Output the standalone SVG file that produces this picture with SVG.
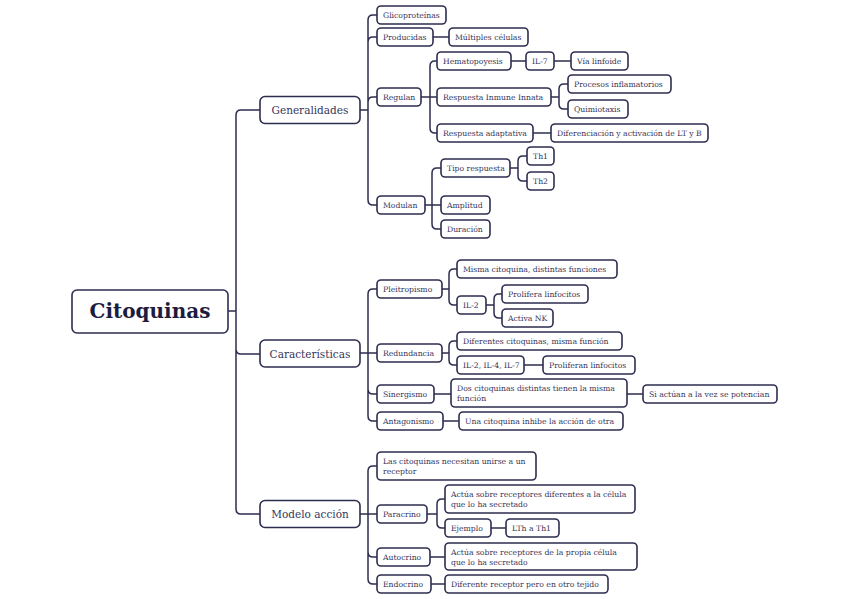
<svg xmlns="http://www.w3.org/2000/svg" width="848" height="599" viewBox="0 0 848 599">
<style>
.n rect{fill:#fff;stroke:#2d2d50;stroke-width:1.6}
.n text{font-family:"DejaVu Serif","Liberation Serif",serif;font-size:7.7px;fill:#35355a}
.l1 text{font-size:10.5px;text-anchor:middle}
.root text{font-size:20px;font-weight:bold;fill:#1c1c40;text-anchor:middle}
#connectors path{fill:none;stroke:#2d2d50;stroke-width:1.5}
</style>
<rect width="848" height="599" fill="#fff"/>
<g id="connectors">
<path d="M228,311 H236 M236,311 V115 Q236,110 241,110 H260 M236,311 V349 Q236,354 241,354 H260 M236,311 V509 Q236,514 241,514 H260"/>
<path d="M360,110 H368 M368,110 V20 Q368,15 373,15 H377 M368,110 V42 Q368,37 373,37 H377 M368,110 V102 Q368,97 373,97 H377 M368,110 V200 Q368,205 373,205 H377"/>
<path d="M433,37 H449"/>
<path d="M421,97 H437 M430,97 V66 Q430,61 435,61 H437 M430,97 V128 Q430,133 435,133 H437"/>
<path d="M511,61 H526 M554,61 H571"/>
<path d="M551,97 H559 M559,97 V89 Q559,84 564,84 H568 M559,97 V104 Q559,109 564,109 H568"/>
<path d="M533,133 H551"/>
<path d="M425,205 H441 M432,205 V173 Q432,168 437,168 H441 M432,205 V224 Q432,229 437,229 H441"/>
<path d="M510,168 H518 M518,168 V161 Q518,156 523,156 H527 M518,168 V176 Q518,181 523,181 H527"/>
<path d="M360,353 H377 M368,353 V294 Q368,289 373,289 H377 M368,353 V389 Q368,394 373,394 H377 M368,353 V416 Q368,421 373,421 H377"/>
<path d="M442,289 H449 M449,289 V274 Q449,269 454,269 H457 M449,289 V300 Q449,305 454,305 H457"/>
<path d="M486,305 H494 M494,305 V299 Q494,294 499,294 H502 M494,305 V313 Q494,318 499,318 H502"/>
<path d="M442,353 H449 M449,353 V346 Q449,341 454,341 H457 M449,353 V360 Q449,365 454,365 H457"/>
<path d="M524,365 H543 M434,394 H451 M627,394 H643 M443,421 H459"/>
<path d="M360,514 H377 M368,514 V471 Q368,466 373,466 H377 M368,514 V552 Q368,557 373,557 H377 M368,514 V579 Q368,584 373,584 H377"/>
<path d="M427,514 H437 M437,514 V504 Q437,499 442,499 H445 M437,514 V523 Q437,528 442,528 H445"/>
<path d="M491,528 H506 M430,557 H445 M431,584 H445"/>
</g>
<g id="citoquinas" class="n root"><rect x="72" y="290" width="156" height="43" rx="5"/><text x="150" y="318">Citoquinas</text></g>
<g id="generalidades" class="n l1"><rect x="260" y="96.5" width="100" height="27" rx="5"/><text x="310" y="114">Generalidades</text></g>
<g id="caracteristicas" class="n l1"><rect x="260" y="340" width="100" height="27" rx="5"/><text x="310" y="357.5">Características</text></g>
<g id="modelo" class="n l1"><rect x="260" y="500.5" width="100" height="27" rx="5"/><text x="310" y="518">Modelo acción</text></g>

<g id="glicoproteinas" class="n"><rect x="377" y="6" width="69" height="18" rx="4"/><text x="383" y="18">Glicoproteínas</text></g>
<g id="producidas" class="n"><rect x="377" y="28" width="56" height="18" rx="4"/><text x="383" y="40">Producidas</text></g>
<g id="multiples" class="n"><rect x="449" y="28" width="79" height="18" rx="4"/><text x="455" y="40">Múltiples células</text></g>
<g id="regulan" class="n"><rect x="377" y="88" width="44" height="18" rx="4"/><text x="383" y="100">Regulan</text></g>
<g id="hematopoyesis" class="n"><rect x="437" y="52" width="74" height="18" rx="4"/><text x="443" y="64">Hematopoyesis</text></g>
<g id="il7" class="n"><rect x="526" y="52" width="28" height="18" rx="4"/><text x="532" y="64">IL-7</text></g>
<g id="via" class="n"><rect x="571" y="52" width="57" height="18" rx="4"/><text x="577" y="64">Vía linfoide</text></g>
<g id="rii" class="n"><rect x="437" y="88" width="114" height="18" rx="4"/><text x="443" y="100">Respuesta Inmune Innata</text></g>
<g id="procesos" class="n"><rect x="568" y="75" width="103" height="18" rx="4"/><text x="574" y="87">Procesos inflamatorios</text></g>
<g id="quimiotaxis" class="n"><rect x="568" y="100" width="60" height="18" rx="4"/><text x="574" y="112">Quimiotaxis</text></g>
<g id="radaptativa" class="n"><rect x="437" y="124" width="96" height="18" rx="4"/><text x="443" y="136">Respuesta adaptativa</text></g>
<g id="diferenciacion" class="n"><rect x="551" y="124" width="157" height="18" rx="4"/><text x="557" y="136">Diferenciación y activación de LT y B</text></g>
<g id="modulan" class="n"><rect x="377" y="196" width="48" height="18" rx="4"/><text x="383" y="208">Modulan</text></g>
<g id="tipo" class="n"><rect x="441" y="159" width="69" height="18" rx="4"/><text x="447" y="171">Tipo respuesta</text></g>
<g id="th1" class="n"><rect x="527" y="147" width="27" height="18" rx="4"/><text x="533" y="159">Th1</text></g>
<g id="th2" class="n"><rect x="527" y="172" width="27" height="18" rx="4"/><text x="533" y="184">Th2</text></g>
<g id="amplitud" class="n"><rect x="441" y="196" width="49" height="18" rx="4"/><text x="447" y="208">Amplitud</text></g>
<g id="duracion" class="n"><rect x="441" y="220" width="49" height="18" rx="4"/><text x="447" y="232">Duración</text></g>

<g id="pleitropismo" class="n"><rect x="377" y="280" width="65" height="18" rx="4"/><text x="383" y="292">Pleitropismo</text></g>
<g id="misma" class="n"><rect x="457" y="260" width="160" height="18" rx="4"/><text x="463" y="272">Misma citoquina, distintas funciones</text></g>
<g id="il2" class="n"><rect x="457" y="296" width="29" height="18" rx="4"/><text x="463" y="308">IL-2</text></g>
<g id="prolifera" class="n"><rect x="502" y="285" width="86" height="18" rx="4"/><text x="508" y="297">Prolifera linfocitos</text></g>
<g id="activank" class="n"><rect x="502" y="309" width="51" height="18" rx="4"/><text x="508" y="321">Activa NK</text></g>
<g id="redundancia" class="n"><rect x="377" y="344" width="65" height="18" rx="4"/><text x="383" y="356">Redundancia</text></g>
<g id="diferentes" class="n"><rect x="457" y="332" width="165" height="18" rx="4"/><text x="463" y="344">Diferentes citoquinas, misma función</text></g>
<g id="il247" class="n"><rect x="457" y="356" width="67" height="18" rx="4"/><text x="463" y="368">IL-2, IL-4, IL-7</text></g>
<g id="proliferan" class="n"><rect x="543" y="356" width="92" height="18" rx="4"/><text x="549" y="368">Proliferan linfocitos</text></g>
<g id="sinergismo" class="n"><rect x="377" y="385" width="57" height="18" rx="4"/><text x="383" y="397">Sinergismo</text></g>
<g id="dos" class="n"><rect x="451" y="379" width="176" height="28" rx="4"/><text x="457" y="391">Dos citoquinas distintas tienen la misma</text><text x="457" y="401">función</text></g>
<g id="siactuan" class="n"><rect x="643" y="385" width="134" height="18" rx="4"/><text x="649" y="397">Si actúan a la vez se potencian</text></g>
<g id="antagonismo" class="n"><rect x="377" y="412" width="66" height="18" rx="4"/><text x="383" y="424">Antagonismo</text></g>
<g id="una" class="n"><rect x="459" y="412" width="164" height="18" rx="4"/><text x="465" y="424">Una citoquina inhibe la acción de otra</text></g>

<g id="las" class="n"><rect x="377" y="452" width="159" height="28" rx="4"/><text x="383" y="464">Las citoquinas necesitan unirse a un</text><text x="383" y="474">receptor</text></g>
<g id="paracrino" class="n"><rect x="377" y="505" width="50" height="18" rx="4"/><text x="383" y="517">Paracrino</text></g>
<g id="actuadif" class="n"><rect x="445" y="485" width="190" height="28" rx="4"/><text x="451" y="497">Actúa sobre receptores diferentes a la célula</text><text x="451" y="507">que lo ha secretado</text></g>
<g id="ejemplo" class="n"><rect x="445" y="519" width="46" height="18" rx="4"/><text x="451" y="531">Ejemplo</text></g>
<g id="lth" class="n"><rect x="506" y="519" width="53" height="18" rx="4"/><text x="512" y="531">LTh a Th1</text></g>
<g id="autocrino" class="n"><rect x="377" y="548" width="53" height="18" rx="4"/><text x="383" y="560">Autocrino</text></g>
<g id="actuapropia" class="n"><rect x="445" y="543" width="192" height="27" rx="4"/><text x="451" y="555">Actúa sobre receptores de la propia célula</text><text x="451" y="565">que lo ha secretado</text></g>
<g id="endocrino" class="n"><rect x="377" y="575" width="54" height="18" rx="4"/><text x="383" y="587">Endocrino</text></g>
<g id="diferente" class="n"><rect x="445" y="575" width="163" height="18" rx="4"/><text x="451" y="587">Diferente receptor pero en otro tejido</text></g>
</svg>
